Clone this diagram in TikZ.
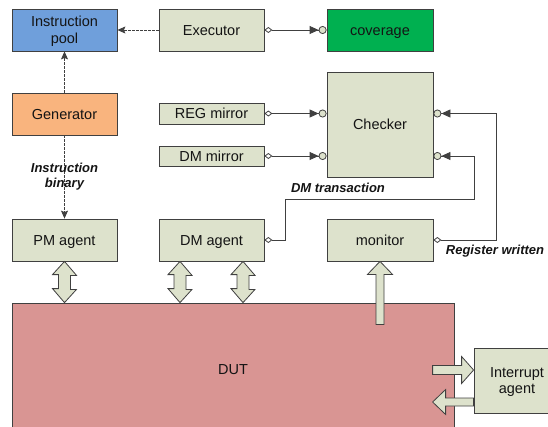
\documentclass[tikz,border=0pt]{standalone}
\usepackage{fontspec}
\setmainfont{Liberation Sans}
\usetikzlibrary{arrows.meta,calc}
\definecolor{boxfill}{RGB}{221,226,204}
\definecolor{poolblue}{RGB}{111,159,219}
\definecolor{covgreen}{RGB}{0,176,80}
\definecolor{genorange}{RGB}{249,180,126}
\definecolor{dutred}{RGB}{217,149,147}
\definecolor{edge}{RGB}{64,64,64}
\definecolor{txt}{RGB}{20,20,20}
\newcommand\vdarrow[2]{\draw[barrow] (#1) -- ++(12,14) -- ++(-6,0) -- ++(0,14) -- ++(6,0) -- (#2) -- ++(-12,-14) -- ++(6,0) -- ++(0,-14) -- ++(-6,0) -- cycle;}
\begin{document}
\begin{tikzpicture}[x=1pt,y=-1pt,
  blk/.style={draw=edge, line width=0.8pt, fill=boxfill, text=txt, inner sep=1pt, align=center,
     font=\fontsize{14.5}{16.7}\selectfont, text depth=0pt},
  one/.style={text height=10.4pt},
  lbl/.style={font=\fontsize{13}{15}\selectfont\bfseries\itshape, text=txt, align=center, inner sep=0pt},
  dasharrow/.style={draw=edge, line width=0.8pt, dash pattern=on 2.5pt off 1.5pt, -{Stealth[length=8pt,width=7pt,inset=1.5pt]}},
  port/.style={draw=edge, line width=0.8pt, {Diamond[length=8pt,width=6pt,fill=white]}-{Triangle[length=9pt,width=8pt]Circle[length=8pt,fill=boxfill]}},
  barrow/.style={draw=edge, line width=0.8pt, fill=boxfill, line join=miter}
]
\useasboundingbox (0,0) rectangle (548,426);
\clip (0,0) rectangle (548,426);
% boxes
\node[blk, fill=poolblue, minimum width=105, minimum height=42] (pool) at (64.5,30) {Instruction\\pool};
\node[blk, one, minimum width=105, minimum height=42] (exec) at (211.5,30) {Executor};
\node[blk, one, fill=covgreen, minimum width=106, minimum height=42] (cov) at (380,30) {coverage};
\node[blk, one, fill=genorange, minimum width=105, minimum height=42] (gen) at (64.5,114) {Generator};
\node[blk, one, minimum width=105, minimum height=21] (regm) at (211.5,113.5) {REG mirror};
\node[blk, one, minimum width=105, minimum height=20] (dmm) at (211.5,156) {DM mirror};
\node[blk, one, minimum width=106, minimum height=105] (chk) at (380,124.5) {Checker};
\node[blk, one, minimum width=105, minimum height=42] (pm) at (64.5,240) {PM agent};
\node[blk, one, minimum width=105, minimum height=42] (dma) at (211.5,240) {DM agent};
\node[blk, one, minimum width=106, minimum height=42] (mon) at (380,240) {monitor};
\node[blk, one, fill=dutred, minimum width=442, minimum height=132] (dut) at (233,369) {DUT};
\node[blk, minimum width=86, minimum height=65] (intr) at (517,380.5) {Interrupt\\agent};
% dashed connectors
\draw[dasharrow] (exec.west) -- (pool.east);
\draw[dasharrow] (gen.north) -- (pool.south);
\draw[dasharrow] (gen.south) -- (pm.north);
\node[lbl] (lib) at (64.5,177) {Instruction\\binary};
% port connectors
\draw[port] (exec.east) -- (cov.west);
\draw[port] (regm.east) -- (chk.west |- regm.east);
\draw[port] (dmm.east) -- (chk.west |- dmm.east);
\draw[port] (mon.east) -- ++(63,0) |- (chk.east |- regm.east);
\draw[port] (dma.east) -- ++(21,0) -- ++(0,-41) -- ++(189,0) |- (chk.east |- dmm.east);
\node[lbl] (ldm) at (338,187.5) {DM transaction};
\node[lbl] (lrw) at (495,251) {Register written};
% block arrows
\coordinate (d1t) at ($(dma.south)+(-31.5,0)$);
\coordinate (d2t) at ($(dma.south)+(31.5,0)$);
\coordinate (d1b) at (d1t |- dut.north);
\coordinate (d2b) at (d2t |- dut.north);
\coordinate (pmb) at (pm.south |- dut.north);
\vdarrow{pm.south}{pmb}
\vdarrow{d1t}{d1b}
\vdarrow{d2t}{d2b}
\draw[barrow] (mon.south) -- ++(12.5,13) -- ++(-8.5,0) -- ++(0,50) -- ++(-8,0) -- ++(0,-50) -- ++(-8.5,0) -- cycle;
\coordinate (ira) at ($(intr.west)+(0,-10.5)$);
\coordinate (ilb) at ($(intr.west)+(0,21.5)$);
\draw[barrow] (ira) -- ++(-12,-13.5) -- ++(0,9) -- ++(-29,0) -- ++(0,9) -- ++(29,0) -- ++(0,9) -- cycle;
\draw[barrow] (ilb) -- ++(0,-4) -- ++(-28,0) -- ++(0,-8.5) -- ++(-13,12.5) -- ++(13,12.5) -- ++(0,-8.5) -- ++(28,0) -- cycle;
\end{tikzpicture}
\end{document}
